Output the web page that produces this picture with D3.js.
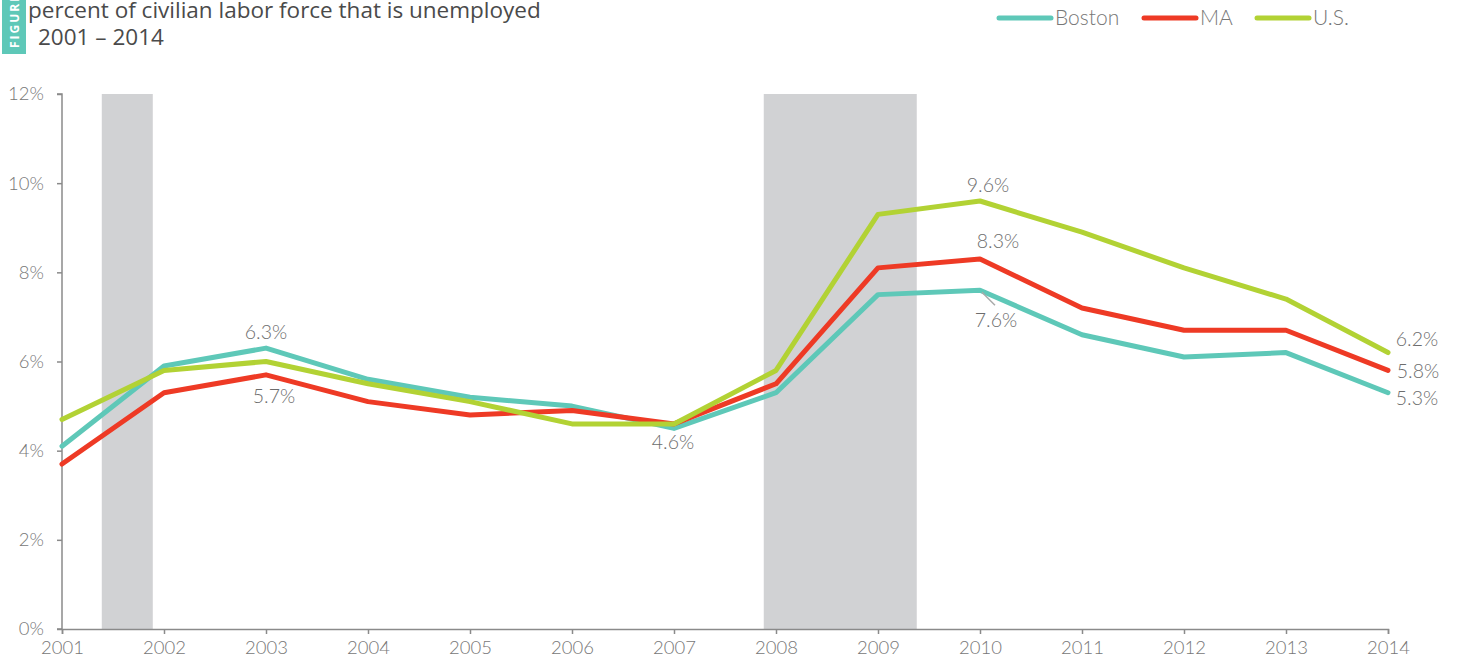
<!DOCTYPE html>
<html lang="en">
<head>
    <meta charset="UTF-8">
    <title>Unemployment rate</title>
    <script src="https://d3js.org/d3.v7.min.js"></script>
    <style>
        body { margin: 0; background: #fff; }
        text { font-family: Lato, "Open Sans", sans-serif; }
    </style>
</head>
<body>
    <svg id="chart" width="1457" height="665"></svg>
    <script>
        // data
        const years = [2001, 2002, 2003, 2004, 2005, 2006, 2007, 2008, 2009, 2010, 2011, 2012, 2013, 2014];
        const boston = [4.1, 5.9, 6.3, 5.6, 5.2, 5.0, 4.5, 5.3, 7.5, 7.6, 6.6, 6.1, 6.2, 5.3];
        const ma = [3.7, 5.3, 5.7, 5.1, 4.8, 4.9, 4.6, 5.5, 8.1, 8.3, 7.2, 6.7, 6.7, 5.8];
        const us = [4.7, 5.8, 6.0, 5.5, 5.1, 4.6, 4.6, 5.8, 9.3, 9.6, 8.9, 8.1, 7.4, 6.2];
        const yTicks = [0, 2, 4, 6, 8, 10, 12];
        const recessions = [[2001.39, 2001.89], [2007.88, 2009.38]];

        const seriesNames = ['Boston', 'MA', 'U.S.'];
        const seriesColors = ['#5ec8b8', '#ee3a25', '#b2d234'];
        const seriesValues = [boston, ma, us];

        // point labels: [series index, year index, text, dx, dy]
        const pointLabels = [
            [0, 2, '6.3%', 0, -9],
            [1, 2, '5.7%', 8, 28],
            [1, 6, '4.6%', -1, 25],
            [2, 9, '9.6%', 8, -9],
            [1, 9, '8.3%', 18, -11],
            [0, 9, '7.6%', 16, 37],
            [2, 13, '6.2%', 29, -7],
            [1, 13, '5.8%', 30, 8],
            [0, 13, '5.3%', 29, 12]
        ];

        const svg = d3.select('#chart');
        const margin = { top: 94, right: 69, bottom: 36, left: 62 };
        const width = 1457, height = 665;

        const x = d3.scaleLinear()
            .domain([2001, 2014])
            .range([margin.left, width - margin.right]);
        const y = d3.scaleLinear()
            .domain([0, 12])
            .range([height - margin.bottom, margin.top]);

        // recession shading
        svg.selectAll('.rec')
            .data(recessions)
            .enter().append('rect')
            .attr('x', d => x(d[0]))
            .attr('y', y(12))
            .attr('width', d => x(d[1]) - x(d[0]))
            .attr('height', y(0) - y(12))
            .attr('fill', '#d1d2d4');

        // axes
        const yAxis = svg.append('g')
            .attr('transform', `translate(${margin.left},0)`)
            .call(d3.axisLeft(y).tickValues(yTicks).tickFormat(d => d + '%').tickSize(5).tickPadding(13));
        const xAxis = svg.append('g')
            .attr('transform', `translate(0,${y(0)})`)
            .call(d3.axisBottom(x).tickValues(years).tickFormat(d3.format('d')).tickSize(5).tickPadding(7));

        [yAxis, xAxis].forEach(g => {
            g.selectAll('path, line').attr('stroke', '#8a8a8a').attr('stroke-width', 1.5);
            g.selectAll('text')
                .attr('fill', '#777777')
                .attr('font-size', '18.5px')
                .attr('font-weight', 300);
        });
        yAxis.select('.domain').attr('d', `M-5,${y(12)}H0V${y(0)}H-5`);

        // lines
        const line = d3.line()
            .x((d, i) => x(years[i]))
            .y(d => y(d));

        svg.selectAll('.series')
            .data(seriesValues)
            .enter().append('path')
            .attr('d', d => line(d))
            .attr('fill', 'none')
            .attr('stroke', (d, i) => seriesColors[i])
            .attr('stroke-width', 5)
            .attr('stroke-linejoin', 'round')
            .attr('stroke-linecap', 'round');

        // leader line for 7.6%
        svg.append('line')
            .attr('x1', x(2010) + 2)
            .attr('y1', y(7.6) + 2)
            .attr('x2', x(2010) + 15)
            .attr('y2', y(7.6) + 15)
            .attr('stroke', '#aaaaaa')
            .attr('stroke-width', 1.5);

        // value labels
        svg.selectAll('.label')
            .data(pointLabels)
            .enter().append('text')
            .attr('x', d => x(years[d[1]]) + d[3])
            .attr('y', d => y(seriesValues[d[0]][d[1]]) + d[4])
            .attr('text-anchor', 'middle')
            .attr('fill', '#6d6d6d')
            .attr('font-size', '19.5px')
            .attr('font-weight', 300)
            .text(d => d[2]);

        // title block
        svg.append('rect')
            .attr('x', 2).attr('y', 0)
            .attr('width', 24).attr('height', 54)
            .attr('fill', '#5ec8b8');
        svg.append('text')
            .attr('transform', 'translate(19,48) rotate(-90)')
            .attr('fill', '#fff')
            .attr('font-size', '12px')
            .attr('font-weight', 700)
            .attr('letter-spacing', '2px')
            .style('font-family', '"Open Sans", sans-serif')
            .text('FIGURE');
        svg.append('text')
            .attr('x', 28).attr('y', 18)
            .attr('fill', '#4a4a4a')
            .attr('font-size', '22.5px')
            .style('font-family', '"Open Sans", sans-serif')
            .text('percent of civilian labor force that is unemployed');
        svg.append('text')
            .attr('x', 38).attr('y', 45)
            .attr('fill', '#4a4a4a')
            .attr('font-size', '22.5px')
            .style('font-family', '"Open Sans", sans-serif')
            .text('2001 – 2014');

        // legend
        const legendX = [999, 1144, 1257];
        const legend = svg.selectAll('.legend')
            .data(seriesNames)
            .enter().append('g')
            .attr('transform', (d, i) => `translate(${legendX[i]},18)`);
        legend.append('line')
            .attr('x1', 0).attr('x2', 52)
            .attr('stroke', (d, i) => seriesColors[i])
            .attr('stroke-width', 5)
            .attr('stroke-linecap', 'round');
        legend.append('text')
            .attr('x', 56).attr('y', 7)
            .attr('fill', '#777777')
            .attr('font-size', '21px')
            .attr('font-weight', 300)
            .text(d => d);
    </script>
</body>
</html>
